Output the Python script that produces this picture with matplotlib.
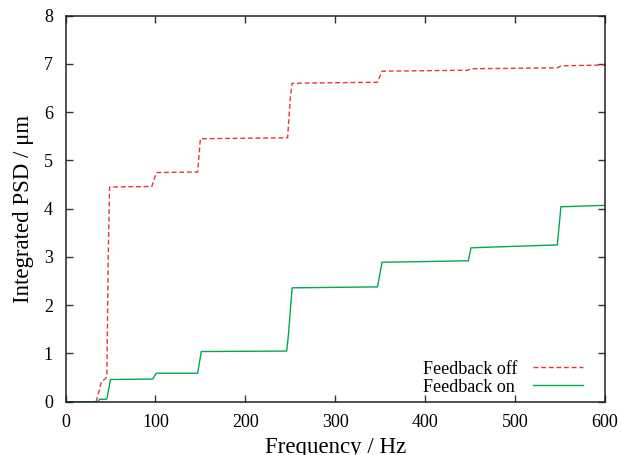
import matplotlib.pyplot as plt

# Integrated PSD
freq_off = [0, 34, 37, 40, 44, 46, 47.5, 49, 96, 101, 147, 150, 247, 250, 252, 347, 352, 447, 451, 547, 551, 600]
psd_off = [0, 0, 0.2, 0.42, 0.47, 0.52, 3.0, 4.45, 4.46, 4.75, 4.76, 5.45, 5.47, 6.3, 6.6, 6.62, 6.85, 6.87, 6.9, 6.92, 6.96, 6.98]

freq_on = [0, 36, 38, 45, 46, 50, 97, 101, 147, 151, 246, 248, 252, 347, 352, 448, 451, 547, 551, 600]
psd_on = [0, 0, 0.05, 0.05, 0.06, 0.46, 0.47, 0.59, 0.59, 1.04, 1.05, 1.4, 2.36, 2.38, 2.89, 2.92, 3.19, 3.25, 4.04, 4.07]

labels = ["Feedback off", "Feedback on"]
colors = ["#e8353d", "#00a852"]
styles = [(0, (3.5, 2)), "-"]

plt.rcParams["font.family"] = ["Liberation Serif", "DejaVu Serif"]

fig = plt.figure(figsize=(6.21, 4.55), dpi=100)
ax = fig.add_axes([0.1055, 0.1171, 0.8687, 0.8484])

ax.plot(freq_off, psd_off, color=colors[0], lw=1.0, linestyle=styles[0])
ax.plot(freq_on, psd_on, color=colors[1], lw=1.0, linestyle=styles[1])

ax.set_xlim(0, 600)
ax.set_ylim(0, 8)
ax.set_xticks(range(0, 601, 100))
ax.set_yticks(range(0, 9))
ax.tick_params(direction="in", length=5, width=1, top=True, right=True, labelsize=13, pad=9, color="#333333")
for s in ax.spines.values():
    s.set_linewidth(1.1)
    s.set_color("#222222")

ax.set_xlabel("Frequency / Hz", fontsize=16.5, labelpad=4)
ax.set_ylabel("Integrated PSD / μm", fontsize=16.5, labelpad=7)

# gnuplot style key: left aligned text, sample line to the right
text_y = [0.0718, 0.0259]
line_y = [0.0907, 0.0433]
for i in range(2):
    ax.text(0.6627, text_y[i], labels[i], transform=ax.transAxes, fontsize=13,
            ha="left", va="baseline")
    ax.plot([0.8666, 0.9592], [line_y[i], line_y[i]], transform=ax.transAxes,
            color=colors[i], lw=1.0, linestyle=styles[i])

fig.savefig("out.png", dpi=100)
